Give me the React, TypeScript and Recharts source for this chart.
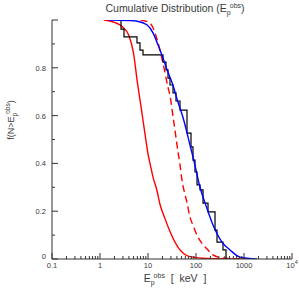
import React from "react"
import { LineChart, Line, XAxis, YAxis } from "recharts"

// red solid model curve
const RED_SOLID_E = [1.2, 2, 3, 4, 5, 6, 7, 8, 9, 10, 11, 13, 15, 18, 22.5, 29, 42, 75, 170, 1300]
const RED_SOLID_F = [1.0, 0.99, 0.97, 0.935, 0.86, 0.74, 0.65, 0.57, 0.5, 0.44, 0.4, 0.335, 0.295, 0.225, 0.17, 0.113, 0.05, 0.01, 0.002, 0]

// red dashed model curve
const RED_DASH_E = [7, 11, 15.4, 20.5, 26, 29, 33, 37, 42, 46, 51, 59, 65, 75, 87, 105, 140, 170, 226, 365, 800]
const RED_DASH_F = [1.0, 0.987, 0.92, 0.82, 0.72, 0.68, 0.6, 0.53, 0.45, 0.4, 0.33, 0.27, 0.235, 0.175, 0.14, 0.1, 0.06, 0.042, 0.017, 0.004, 0]

// blue fit
const BLUE_E = [1.5, 4, 6, 9.5, 12.7, 16.2, 20.5, 26, 33, 42, 54, 75, 95, 115, 168, 226, 348, 511, 825, 1860]
const BLUE_F = [1.0, 0.998, 0.995, 0.98, 0.946, 0.895, 0.841, 0.782, 0.728, 0.657, 0.59, 0.477, 0.393, 0.318, 0.213, 0.142, 0.071, 0.038, 0.008, 0]

// observed cumulative distribution (steps)
const OBS_E = [2.2, 2.74, 3.16, 5.9, 6.81, 7.87, 20.5, 23.7, 26.1, 28.7, 33.2, 38.3, 46.4, 64.9, 78.7, 86.6, 95.3, 105, 121, 140, 178, 249, 274, 365, 422]
const OBS_F = [1.0, 0.962, 0.929, 0.904, 0.874, 0.854, 0.824, 0.791, 0.757, 0.728, 0.695, 0.661, 0.623, 0.527, 0.469, 0.414, 0.364, 0.31, 0.289, 0.234, 0.197, 0.121, 0.071, 0.038, 0]

const X_MAJOR = [0.1, 1, 10, 100, 1000, 10000]
const X_MINOR_MULT = [2, 3, 4, 5, 6, 7, 8, 9]
const Y_MAJOR = [0, 0.2, 0.4, 0.6, 0.8, 1]
const Y_MINOR = [0.1, 0.3, 0.5, 0.7, 0.9]
const Y_LABELS = [0, 0.2, 0.4, 0.6, 0.8]

const xTicks: number[] = []
X_MAJOR.forEach((d, i) => {
  xTicks.push(d)
  if (i < X_MAJOR.length - 1) X_MINOR_MULT.forEach(m => xTicks.push(+(d * m).toPrecision(3)))
})
const yTicks = [...Y_MAJOR, ...Y_MINOR].sort((a, b) => a - b)

const zip = (xs: number[], ys: number[]) => xs.map((x, i) => ({ x, y: ys[i] }))
const redSolid = zip(RED_SOLID_E, RED_SOLID_F)
const redDash = zip(RED_DASH_E, RED_DASH_F)
const blue = zip(BLUE_E, BLUE_F)
const obs = zip(OBS_E, OBS_F)

const FONT = "'Liberation Sans', Arial, sans-serif"
const AXIS = "#333"
const TEXT = "#3a3a3a"

const xLabel = (v: number) => {
  if (v === 10000) return <>10<tspan dy={-4} fontSize={5.5}>4</tspan></>
  return String(v)
}

const BottomTick = ({ x, y, payload }: any) => {
  const major = X_MAJOR.includes(payload.value)
  return (
    <g>
      <line x1={x} x2={x} y1={y} y2={y - (major ? 6 : 3)} stroke={AXIS} />
      {major && (
        <text x={x} y={y + 9} textAnchor="middle" fontSize={7.5} fill={TEXT} fontFamily={FONT}>
          {xLabel(payload.value)}
        </text>
      )}
    </g>
  )
}

const TopTick = ({ x, y, payload }: any) => {
  const major = X_MAJOR.includes(payload.value)
  return <line x1={x} x2={x} y1={y} y2={y + (major ? 6 : 3)} stroke={AXIS} />
}

const LeftTick = ({ x, y, payload }: any) => {
  const major = Y_MAJOR.includes(payload.value)
  return (
    <g>
      <line x1={x} x2={x + (major ? 6 : 3)} y1={y} y2={y} stroke={AXIS} />
      {Y_LABELS.includes(payload.value) && (
        <text x={x - 6} y={y + (payload.value === 0 ? 0 : 3)} textAnchor="end" fontSize={7.5} fill={TEXT} fontFamily={FONT}>
          {String(payload.value)}
        </text>
      )}
    </g>
  )
}

const RightTick = ({ x, y, payload }: any) => {
  const major = Y_MAJOR.includes(payload.value)
  return <line x1={x} x2={x - (major ? 6 : 3)} y1={y} y2={y} stroke={AXIS} />
}

export default function App() {
  return (
    <div style={{ position: "absolute", left: 0, top: 0, width: 299, height: 288, background: "#fff" }}>
      <LineChart width={299} height={288} margin={{ top: 20, right: 7, bottom: 0, left: 0 }}>
        <XAxis dataKey="x" type="number" scale="log" domain={[0.1, 10000]} allowDataOverflow
          ticks={xTicks} interval={0} tickSize={0} tickMargin={0} height={29}
          tick={<BottomTick />} tickLine={false} axisLine={{ stroke: AXIS }} />
        <XAxis xAxisId="top" orientation="top" dataKey="x" type="number" scale="log" domain={[0.1, 10000]} allowDataOverflow
          ticks={xTicks} interval={0} tickSize={0} tickMargin={0} height={0}
          tick={<TopTick />} tickLine={false} axisLine={{ stroke: "#999", strokeWidth: 1.5 }} />
        <YAxis type="number" domain={[0, 1]} allowDataOverflow ticks={yTicks} interval={0}
          tickSize={0} tickMargin={0} width={52} tick={<LeftTick />} tickLine={false} axisLine={{ stroke: AXIS }} />
        <YAxis yAxisId="right" orientation="right" type="number" domain={[0, 1]} allowDataOverflow ticks={yTicks} interval={0}
          tickSize={0} tickMargin={0} width={0} tick={<RightTick />} tickLine={false} axisLine={{ stroke: AXIS }} />
        <Line data={redSolid} dataKey="y" type="monotone" stroke="#ff0000" strokeWidth={1.4} dot={false} isAnimationActive={false} />
        <Line data={redDash} dataKey="y" type="monotone" stroke="#ff0000" strokeWidth={1.4} strokeDasharray="7 4" dot={false} isAnimationActive={false} />
        <Line data={obs} dataKey="y" type="stepAfter" stroke="#000" strokeWidth={1.2} dot={false} isAnimationActive={false} />
        <Line data={blue} dataKey="y" type="monotone" stroke="#0000ff" strokeWidth={1.4} dot={false} isAnimationActive={false} />
      </LineChart>
      <svg width={299} height={288} style={{ position: "absolute", left: 0, top: 0, pointerEvents: "none" }} fontFamily={FONT} fill={TEXT}>
        <text x={175} y={12} textAnchor="middle" fontSize={10.5}>
          Cumulative Distribution (E<tspan dy={3} fontSize={7}>p</tspan><tspan dy={-7} dx={-1} fontSize={7}>obs</tspan><tspan dy={4}>)</tspan>
        </text>
        <text x={175} y={282} textAnchor="middle" fontSize={10.5} xmlSpace="preserve">
          E<tspan dy={3} fontSize={7}>p</tspan><tspan dy={-7} dx={-1} fontSize={7}>obs</tspan><tspan dy={4}>  [  keV  ]</tspan>
        </text>
        <text transform="translate(14,120) rotate(-90)" textAnchor="middle" fontSize={9}>
          f(N&gt;E<tspan dy={3} fontSize={6.5}>p</tspan><tspan dy={-7} dx={-1} fontSize={6.5}>obs</tspan><tspan dy={4}>)</tspan>
        </text>
      </svg>
    </div>
  )
}
